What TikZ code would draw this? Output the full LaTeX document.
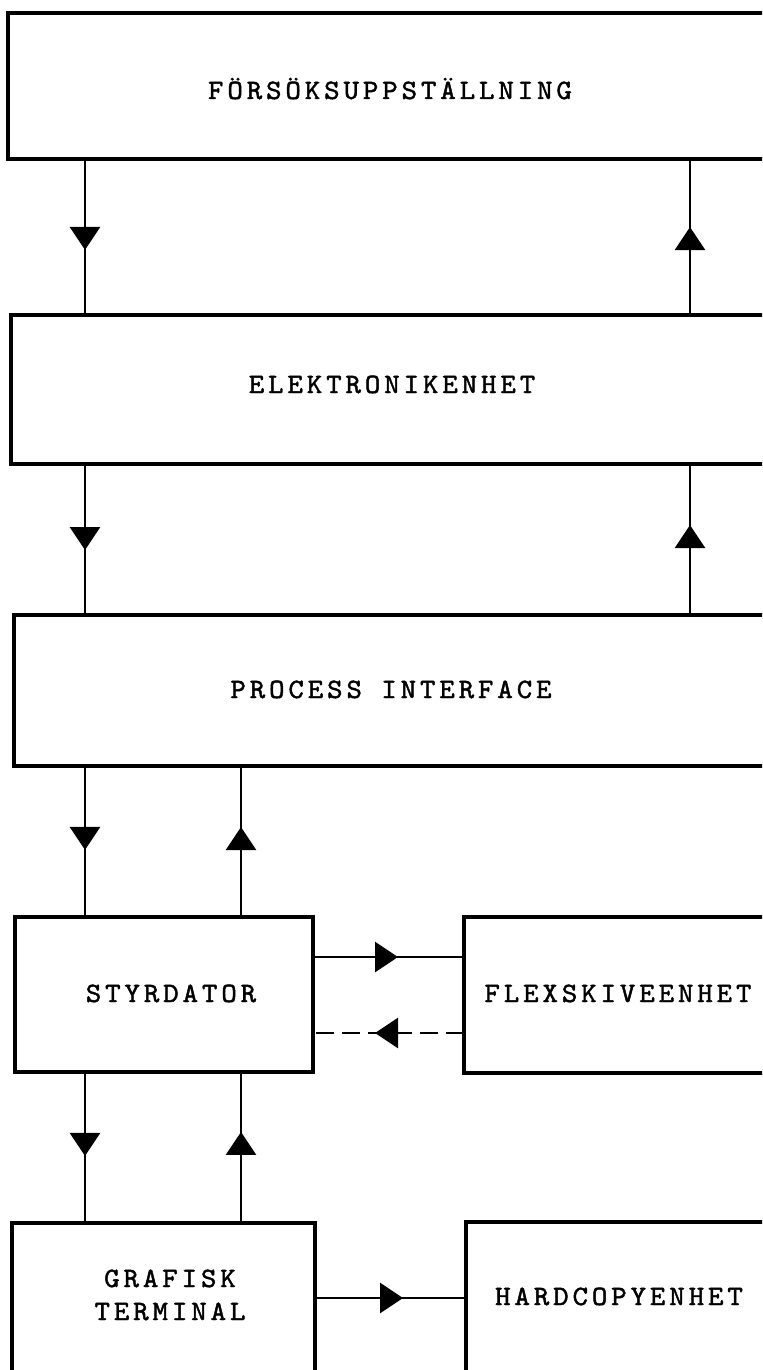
\documentclass[tikz,border=0pt]{standalone}
\usepackage{fontspec}
\newfontfamily\tw[LetterSpace=14,FakeBold=1.6,FakeStretch=1.05]{lmmono10-regular.otf}
\usetikzlibrary{arrows.meta,decorations.markings,fit}
\tikzset{
 box/.style={draw, line width=1.6pt, inner sep=0pt, outer sep=0pt},
 lbl/.style={inner sep=0pt, anchor=base, xshift=1pt, font=\tw\fontsize{14pt}{16.5pt}\selectfont, align=center},
 conn/.style={line width=1.35pt},
 midarrow/.style={postaction={decorate}, decoration={markings, mark=at position #1 with {\arrow{Triangle[width=15pt,length=11.5pt]}}}},
}
\begin{document}
\begin{tikzpicture}[x=0.5pt, y=-0.5pt]
\useasboundingbox (0,0) rectangle (762,1370);
\clip (0,0) rectangle (762,1370);
% boxes
\node[box, fit={(8,13) (768,159)}] (b1) {};
\node[box, fit={(11,315) (768,464)}] (b2) {};
\node[box, fit={(14,615) (768,766)}] (b3) {};
\node[box, fit={(15,917) (313,1072)}] (sty) {};
\node[box, fit={(464,917) (768,1073)}] (flex) {};
\node[box, fit={(12,1223) (315,1400)}] (gt) {};
\node[box, fit={(466,1222) (768,1400)}] (hc) {};
% labels
\node[lbl] (t1) at (388,99) {FÖRSÖKSUPPSTÄLLNING};
\node[lbl] (t2) at (390,393) {ELEKTRONIKENHET};
\node[lbl] (t3) at (389,698) {PROCESS INTERFACE};
\node[lbl] (t4) at (169,1002) {STYRDATOR};
\node[lbl] (t5) at (616,1002) {FLEXSKIVEENHET};
\node[lbl] (t6) at (168,1320) {GRAFISK\\TERMINAL};
\node[lbl] (t7) at (617,1305) {HARDCOPYENHET};
% connector guides
\coordinate (xl) at (85,0);
\coordinate (xm) at (241,0);
\coordinate (xr) at (690,0);
\coordinate (ya) at (0,957);
\coordinate (yb) at (0,1033);
\coordinate (yc) at (0,1298);
% vertical connectors
\draw[conn, midarrow=0.583] (b1.south -| xl) -- (b2.north -| xl);
\draw[conn, midarrow=0.564] (b2.north -| xr) -- (b1.south -| xr);
\draw[conn, midarrow=0.570] (b2.south -| xl) -- (b3.north -| xl);
\draw[conn, midarrow=0.596] (b3.north -| xr) -- (b2.south -| xr);
\draw[conn, midarrow=0.556] (b3.south -| xl) -- (sty.north -| xl);
\draw[conn, midarrow=0.596] (sty.north -| xm) -- (b3.south -| xm);
\draw[conn, midarrow=0.556] (sty.south -| xl) -- (gt.north -| xl);
\draw[conn, midarrow=0.603] (gt.north -| xm) -- (sty.south -| xm);
% horizontal connectors
\draw[conn, midarrow=0.563] (sty.east |- ya) -- (flex.west |- ya);
\draw[conn, dash pattern=on 9pt off 4pt, midarrow=0.589] (flex.west |- yb) -- (sty.east |- yb);
\draw[conn, midarrow=0.583] (gt.east |- yc) -- (hc.west |- yc);
\end{tikzpicture}
\end{document}
